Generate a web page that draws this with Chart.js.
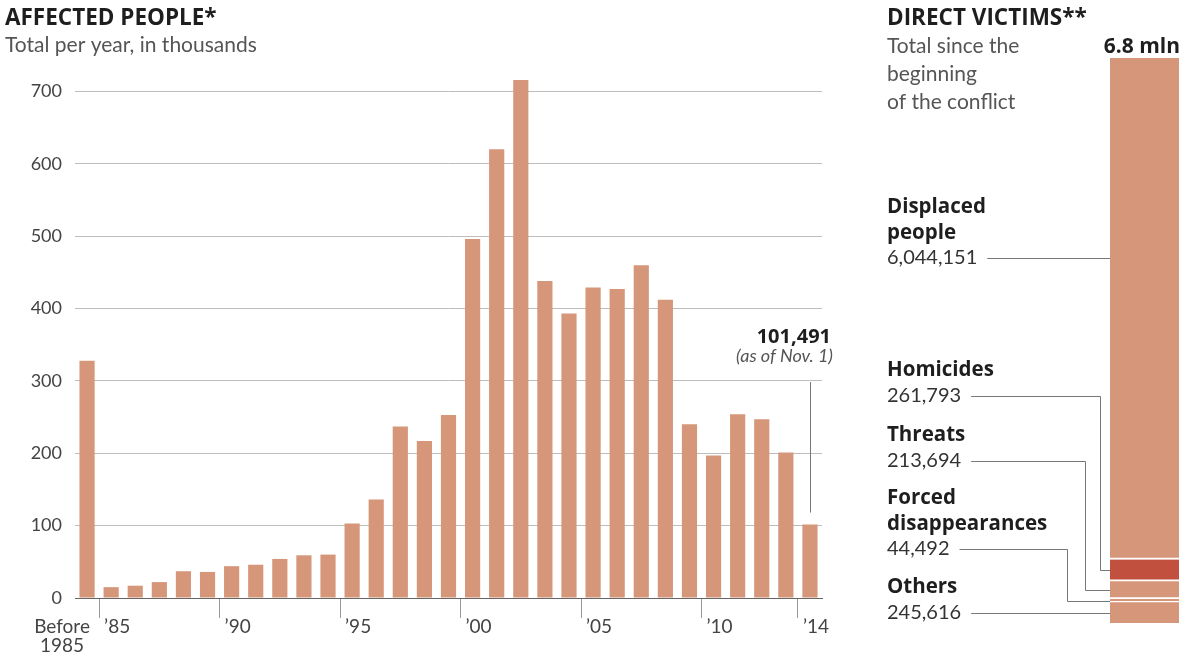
<!DOCTYPE html>
<html>
<head>
<meta charset="utf-8">
<script src="https://cdn.jsdelivr.net/npm/chart.js@4"></script>
<style>
  body { margin: 0; background: #fff; }
  #wrap { position: relative; width: 1179px; height: 653px; overflow: hidden; }
  .box { position: absolute; top: 0; height: 653px; }
</style>
</head>
<body>
<div id="wrap">
  <div class="box" style="left:0;width:850px"><canvas id="affectedChart"></canvas></div>
  <div class="box" style="left:860px;width:319px"><canvas id="victimsChart"></canvas></div>
</div>
<script>
// affected people per year, thousands
const categories = ['Before 1985', '1985', '1986', '1987', '1988', '1989', '1990', '1991', '1992', '1993', '1994',
  '1995', '1996', '1997', '1998', '1999', '2000', '2001', '2002', '2003', '2004',
  '2005', '2006', '2007', '2008', '2009', '2010', '2011', '2012', '2013', '2014'];
const affected = [328, 15, 17, 22, 37, 36, 44, 46, 54, 59, 60,
  103, 136, 237, 217, 253, 496, 620, 716, 438, 393,
  429, 427, 460, 412, 240, 197, 254, 247, 201, 101.491];
const yTicks = [0, 100, 200, 300, 400, 500, 600, 700];
const xTickYears = ['1985', '1990', '1995', '2000', '2005', '2010', '2014'];
const xTickLabels = ['\u201985', '\u201990', '\u201995', '\u201900', '\u201905', '\u201910', '\u201914'];

// direct victims since the beginning of the conflict (bottom to top)
const victimCategories = ['Others', 'Forced disappearances', 'Threats', 'Homicides', 'Displaced people'];
const victimValues = [245616, 44492, 213694, 261793, 6044151];

const barColor = '#d6967a';
const darkColor = '#c1503e';
const font = 'Lato';
const boldFont = '"Open Sans"';
const markIdx = xTickYears.map(y => categories.indexOf(y));

const affectedPlugin = {
  id: 'affectedText',
  afterDraw(chart) {
    const { ctx, scales: { x, y } } = chart;
    ctx.save();
    ctx.textBaseline = 'alphabetic';
    // titles
    ctx.fillStyle = '#1e1e1e';
    ctx.textAlign = 'left';
    ctx.font = `bold 22.5px ${boldFont}`;
    ctx.fillText('AFFECTED PEOPLE*', 5, 25);
    ctx.fillStyle = '#555';
    ctx.font = `21px ${font}`;
    ctx.fillText('Total per year, in thousands', 5, 52);

    // x labels
    const half = (x.getPixelForValue(1) - x.getPixelForValue(0)) / 2;
    ctx.fillStyle = '#444';
    ctx.font = `19px ${font}`;
    ctx.textAlign = 'center';
    const first = categories[0].split(' ');
    ctx.fillText(first[0], x.getPixelForValue(0) - 25, 633);
    ctx.fillText(first[1], x.getPixelForValue(0) - 25, 652);
    ctx.textAlign = 'left';
    markIdx.forEach((idx, i) => {
      ctx.fillText(xTickLabels[i], x.getPixelForValue(idx) - half + 5, 633);
    });

    // note on last bar
    const last = affected.length - 1;
    const lx = x.getPixelForValue(last);
    ctx.textAlign = 'right';
    ctx.fillStyle = '#1e1e1e';
    ctx.font = `bold 20px ${boldFont}`;
    ctx.fillText(Math.round(affected[last] * 1000).toLocaleString('en-US'), 831, 343);
    ctx.fillStyle = '#555';
    ctx.font = `italic 18px ${font}`;
    ctx.fillText('(as of Nov. 1)', 833, 362);
    ctx.strokeStyle = '#777';
    ctx.lineWidth = 1;
    ctx.beginPath();
    ctx.moveTo(Math.round(lx) + 0.5, 382);
    ctx.lineTo(Math.round(lx) + 0.5, y.getPixelForValue(affected[last]) - 12);
    ctx.stroke();
    ctx.restore();
  }
};

new Chart(document.getElementById('affectedChart'), {
  type: 'bar',
  data: {
    labels: categories,
    datasets: [{
      data: affected,
      backgroundColor: barColor,
      borderWidth: 0,
      categoryPercentage: 1,
      barPercentage: 0.63
    }]
  },
  options: {
    responsive: true,
    maintainAspectRatio: false,
    animation: false,
    devicePixelRatio: 1,
    layout: { padding: { top: 77, right: 28, left: 0, bottom: 0 } },
    plugins: {
      legend: { display: false },
      tooltip: { enabled: false }
    },
    scales: {
      x: {
        ticks: { display: false },
        border: { color: '#666' },
        grid: {
          offset: true,
          drawOnChartArea: false,
          tickLength: 20,
          color: c => markIdx.includes(c.index) ? '#999' : 'rgba(0,0,0,0)'
        },
        afterFit: s => { s.height = 55; }
      },
      y: {
        min: 0,
        max: 720,
        afterBuildTicks: s => { s.ticks = yTicks.map(v => ({ value: v })); },
        afterFit: s => { s.width = 75; },
        border: { display: false },
        grid: {
          drawTicks: false,
          color: c => (c.tick && c.tick.value === 0) ? '#666' : '#bdbdbd'
        },
        ticks: { padding: 13, color: '#444', font: { family: font, size: 18 } }
      }
    }
  },
  plugins: [affectedPlugin]
});

// right panel
const total = victimValues.reduce((a, b) => a + b, 0);
const OX = 860;
const victimLabels = [
  { idx: 4, lines: ['Displaced', 'people'], base: 213 },
  { idx: 3, lines: ['Homicides'], base: 376, elbow: 1100 },
  { idx: 2, lines: ['Threats'], base: 441, elbow: 1085 },
  { idx: 1, lines: ['Forced', 'disappearances'], base: 504, elbow: 1067 },
  { idx: 0, lines: ['Others'], base: 593 }
];

const victimsPlugin = {
  id: 'victimsText',
  afterDraw(chart) {
    const { ctx, chartArea, scales: { y } } = chart;
    ctx.save();
    ctx.textBaseline = 'alphabetic';
    ctx.textAlign = 'left';
    ctx.fillStyle = '#1e1e1e';
    ctx.font = `bold 22.5px ${boldFont}`;
    ctx.fillText('DIRECT VICTIMS**', 887 - OX, 25);
    ctx.fillStyle = '#555';
    ctx.font = `21px ${font}`;
    ['Total since the', 'beginning', 'of the conflict'].forEach((t, i) => ctx.fillText(t, 887 - OX, 53 + i * 28));
    ctx.fillStyle = '#1e1e1e';
    ctx.font = `bold 21px ${boldFont}`;
    ctx.textAlign = 'right';
    ctx.fillText((total / 1e6).toFixed(1) + ' mln', chartArea.right + 1, 53);

    ctx.textAlign = 'left';
    ctx.strokeStyle = '#777';
    ctx.lineWidth = 1;
    victimLabels.forEach(l => {
      let b = l.base;
      ctx.fillStyle = '#1e1e1e';
      ctx.font = `bold 20.5px ${boldFont}`;
      l.lines.forEach(t => { ctx.fillText(t, 887 - OX, b); b += 25.5; });
      ctx.fillStyle = '#333';
      ctx.font = `20px ${font}`;
      const txt = victimValues[l.idx].toLocaleString('en-US');
      ctx.fillText(txt, 887 - OX, b);
      const w = ctx.measureText(txt).width;
      const startX = 887 - OX + w + 10;
      const ly = Math.round(b - 6) + 0.5;
      ctx.beginPath();
      ctx.moveTo(startX, ly);
      if (l.elbow) {
        const lo = victimValues.slice(0, l.idx).reduce((a, c) => a + c, 0);
        const mid = Math.round(y.getPixelForValue(lo + victimValues[l.idx] / 2)) + 0.5;
        const ex = l.elbow - OX + 0.5;
        ctx.lineTo(ex, ly);
        ctx.lineTo(ex, mid);
        ctx.lineTo(chartArea.left, mid);
      } else {
        ctx.lineTo(chartArea.left, ly);
      }
      ctx.stroke();
    });
    ctx.restore();
  }
};

new Chart(document.getElementById('victimsChart'), {
  type: 'bar',
  data: {
    labels: ['Total'],
    datasets: victimCategories.map((c, i) => ({
      label: c,
      data: [victimValues[i]],
      backgroundColor: c === 'Homicides' ? darkColor : barColor,
      borderColor: '#fff',
      borderWidth: i === 0 ? 0 : { bottom: 2 },
      borderSkipped: false,
      categoryPercentage: 1,
      barPercentage: 1
    }))
  },
  options: {
    responsive: true,
    maintainAspectRatio: false,
    animation: false,
    devicePixelRatio: 1,
    layout: { padding: { top: 58, right: 0, left: 250, bottom: 30 } },
    plugins: {
      legend: { display: false },
      tooltip: { enabled: false }
    },
    scales: {
      x: { display: false, stacked: true },
      y: { display: false, stacked: true, min: 0, max: total }
    }
  },
  plugins: [victimsPlugin]
});
</script>
</body>
</html>
